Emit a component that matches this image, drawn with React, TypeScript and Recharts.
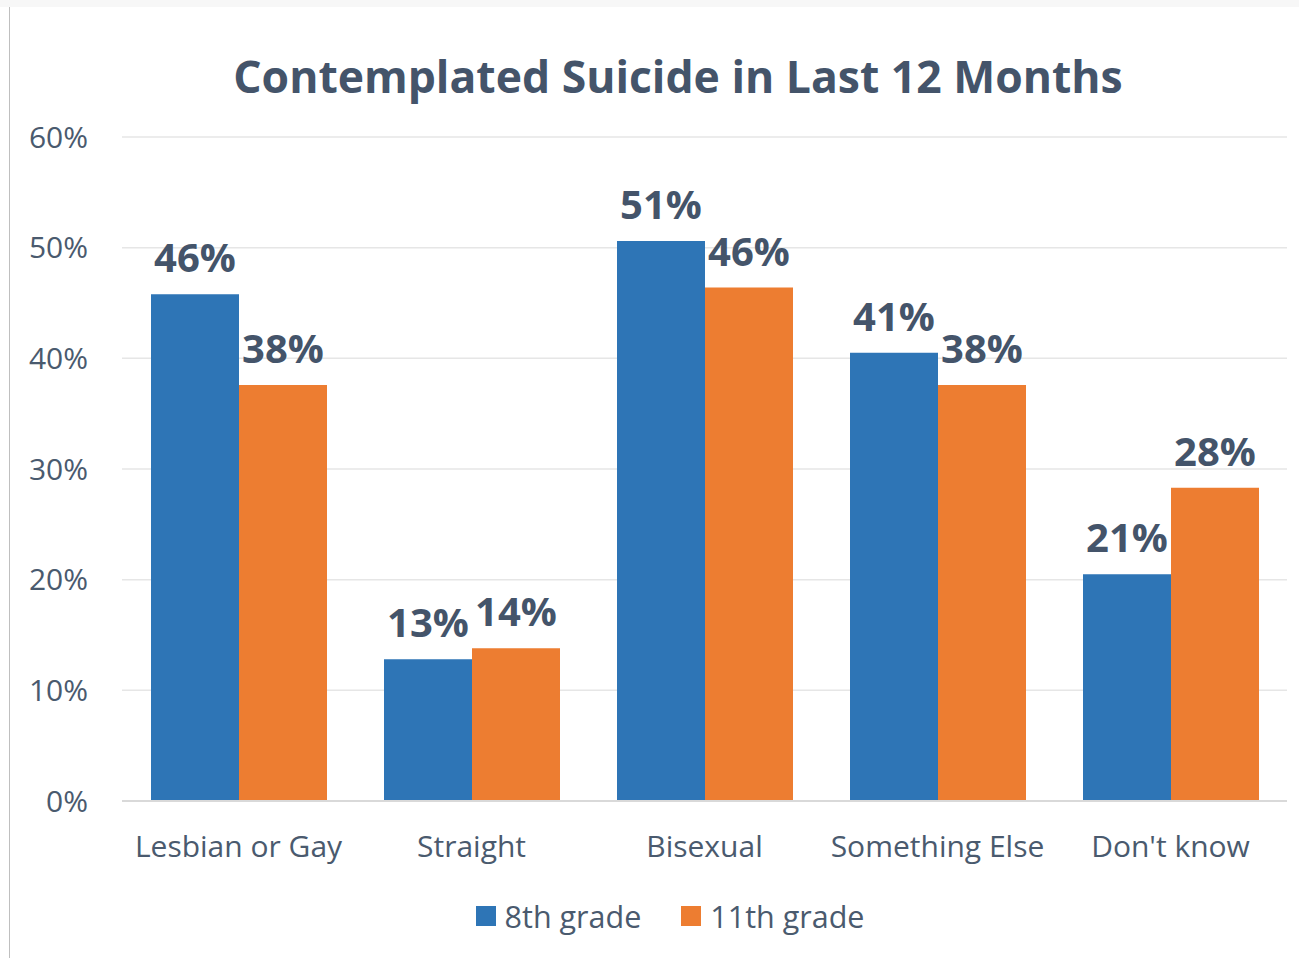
import React from "react";
import { BarChart, Bar, XAxis, YAxis, CartesianGrid, LabelList, Legend } from "recharts";

const categories = ["Lesbian or Gay", "Straight", "Bisexual", "Something Else", "Don't know"];
const grade8 = [45.8, 12.8, 50.6, 40.5, 20.5];
const grade11 = [37.6, 13.8, 46.4, 37.6, 28.3];
const yTicks = [0, 10, 20, 30, 40, 50, 60];
const seriesNames = ["8th grade", "11th grade"];
const colors = ["#2e75b6", "#ed7d31"];

const data = categories.map((c, i) => ({ name: c, g8: grade8[i], g11: grade11[i] }));

const FONT = "'Open Sans', 'Noto Sans', sans-serif";
const TEXT = "#44546a";

const LegendContent = () => (
  <div style={{ display: "flex", justifyContent: "center", alignItems: "center", fontFamily: FONT, fontSize: 30.5, color: "#4a5a6e" }}>
    {seriesNames.map((n, i) => (
      <div key={n} style={{ display: "flex", alignItems: "center", marginRight: i === 0 ? 40 : 0 }}>
        <div style={{ width: 20, height: 20, background: colors[i], marginRight: 9 }} />
        <span>{n}</span>
      </div>
    ))}
  </div>
);

export default function App() {
  return (
    <div style={{ position: "absolute", left: 0, top: 0, width: 1299, height: 958, background: "#fff", overflow: "hidden" }}>
      <div style={{ position: "absolute", left: 0, top: 0, width: 1299, height: 7, background: "#f7f7f7" }} />
      <div style={{ position: "absolute", left: 9, top: 7, width: 1, height: 951, background: "#bfbfbf" }} />
      <div style={{ position: "absolute", left: 0, top: 45, width: 1356, textAlign: "center", fontFamily: FONT, fontWeight: 700, fontSize: 44.5, color: TEXT, whiteSpace: "nowrap" }}>
        Contemplated Suicide in Last 12 Months
      </div>
      <div style={{ position: "absolute", left: 0, top: 0 }}>
        <BarChart width={1299} height={958} data={data} margin={{ top: 137, right: 12, left: 0, bottom: 35 }} barCategoryGap={29} barGap={0}>
          <CartesianGrid vertical={false} stroke="#e6e6e6" strokeWidth={1.5} />
          <XAxis dataKey="name" height={80} tickSize={0} tickMargin={35} axisLine={{ stroke: "#d9d9d9", strokeWidth: 2 }} tickLine={false}
            tick={{ fill: "#4a5a6e", fontSize: 30, fontFamily: FONT }} interval={0} />
          <YAxis width={122} domain={[0, 60]} ticks={yTicks} tickFormatter={(v: number) => `${v}%`} tickSize={0} tickMargin={34}
            axisLine={false} tickLine={false} tick={{ fill: "#4a5a6e", fontSize: 30, fontFamily: FONT }} />
          <Legend layout="vertical" align="center" verticalAlign="bottom" content={<LegendContent />}
            wrapperStyle={{ left: 0, top: 895, width: 1340, height: 42 }} />
          <Bar dataKey="g8" name={seriesNames[0]} fill={colors[0]} isAnimationActive={false}>
            <LabelList dataKey="g8" position="top" offset={22} formatter={(v: number) => `${Math.round(v)}%`}
              style={{ fill: TEXT, fontSize: 40, fontWeight: 700, fontFamily: FONT }} />
          </Bar>
          <Bar dataKey="g11" name={seriesNames[1]} fill={colors[1]} isAnimationActive={false}>
            <LabelList dataKey="g11" position="top" offset={22} formatter={(v: number) => `${Math.round(v)}%`}
              style={{ fill: TEXT, fontSize: 40, fontWeight: 700, fontFamily: FONT }} />
          </Bar>
        </BarChart>
      </div>
    </div>
  );
}
